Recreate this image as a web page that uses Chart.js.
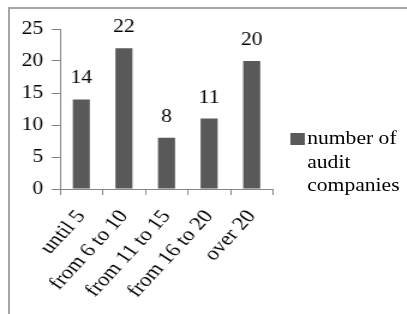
<!DOCTYPE html>
<html>
<head>
<meta charset="utf-8">
<script src="https://cdn.jsdelivr.net/npm/chart.js@4"></script>
<style>
  html, body { margin: 0; padding: 0; background: #fff; overflow: hidden; }
  body { width: 407px; height: 314px; position: relative; }
  #frame {
    position: absolute; left: 8px; top: 7px; width: 420px; height: 330px;
    border-left: 2px solid #a6a6a6; border-top: 2px solid #a6a6a6;
  }
  /* the reference is stretched horizontally, so stretch the whole drawing */
  #wrap {
    position: absolute; left: 0; top: 0; width: 339px; height: 314px;
    transform: scaleX(1.2); transform-origin: 0 0;
  }
  #box { position: absolute; left: 0; top: 0; width: 339px; height: 314px; }
  #legend {
    position: absolute; left: 242px; top: 127px;
    font-family: "Liberation Serif", "Times New Roman", serif;
    font-size: 18px; line-height: 23.5px; color: #000;
  }
  #legend .swatch { position: absolute; left: 0; top: 6px; width: 12px; height: 12px; }
  #legend .text { position: absolute; left: 14px; top: 0; width: 85px; }
</style>
</head>
<body>
<div id="frame"></div>
<div id="wrap">
  <div id="box"><canvas id="auditChart"></canvas></div>
  <div id="legend"></div>
</div>
<script>
const categories = ["until 5", "from 6 to 10", "from 11 to 15", "from 16 to 20", "over 20"];
const auditCompanies = [14, 22, 8, 11, 20];
const seriesLabel = "number of audit companies";
const yMax = 25;
const yStep = 5;

const barColor = "#595959";
const axisColor = "#868686";
const serif = "'Liberation Serif', 'Times New Roman', serif";

Chart.defaults.font.family = serif;
Chart.defaults.font.size = 18;
Chart.defaults.color = "#000";

// value labels above each bar
const valueLabels = {
  id: "valueLabels",
  afterDatasetsDraw(chart) {
    const ctx = chart.ctx;
    const meta = chart.getDatasetMeta(0);
    ctx.save();
    ctx.font = "18px " + serif;
    ctx.fillStyle = "#000";
    ctx.textAlign = "center";
    ctx.textBaseline = "alphabetic";
    meta.data.forEach((bar, i) => {
      ctx.fillText(String(chart.data.datasets[0].data[i]), bar.x, bar.y - 16);
    });
    ctx.restore();
  },
};

const ctx = document.getElementById("auditChart");

new Chart(ctx, {
  type: "bar",
  data: {
    labels: categories,
    datasets: [
      {
        label: seriesLabel,
        data: auditCompanies,
        backgroundColor: barColor,
        borderWidth: 0,
        barPercentage: 0.5,
        categoryPercentage: 0.8,
      },
    ],
  },
  options: {
    responsive: true,
    maintainAspectRatio: false,
    animation: false,
    layout: {
      padding: { left: 0, right: 111.5, top: 29, bottom: 0 },
    },
    plugins: {
      legend: { display: false },
      tooltip: { enabled: false },
    },
    scales: {
      x: {
        afterFit(scale) {
          scale.height = 125;
        },
        ticks: {
          color: "#000",
          font: { size: 19 },
          autoSkip: false,
          maxRotation: 52,
          minRotation: 52,
          padding: 11,
        },
        grid: {
          drawOnChartArea: false,
          drawTicks: true,
          tickLength: 6,
          color: axisColor,
        },
        border: { color: axisColor },
      },
      y: {
        min: 0,
        max: yMax,
        afterFit(scale) {
          scale.width = 50;
        },
        ticks: {
          stepSize: yStep,
          color: "#000",
          padding: 7,
        },
        grid: {
          drawOnChartArea: false,
          drawTicks: true,
          tickLength: 7,
          color: axisColor,
        },
        border: { color: axisColor },
      },
    },
  },
  plugins: [valueLabels],
});

// legend drawn as html so the label can wrap like the original
document.getElementById("legend").innerHTML =
  '<div class="swatch" style="background:' + barColor + '"></div>' +
  '<div class="text">' + seriesLabel + "</div>";
</script>
</body>
</html>
